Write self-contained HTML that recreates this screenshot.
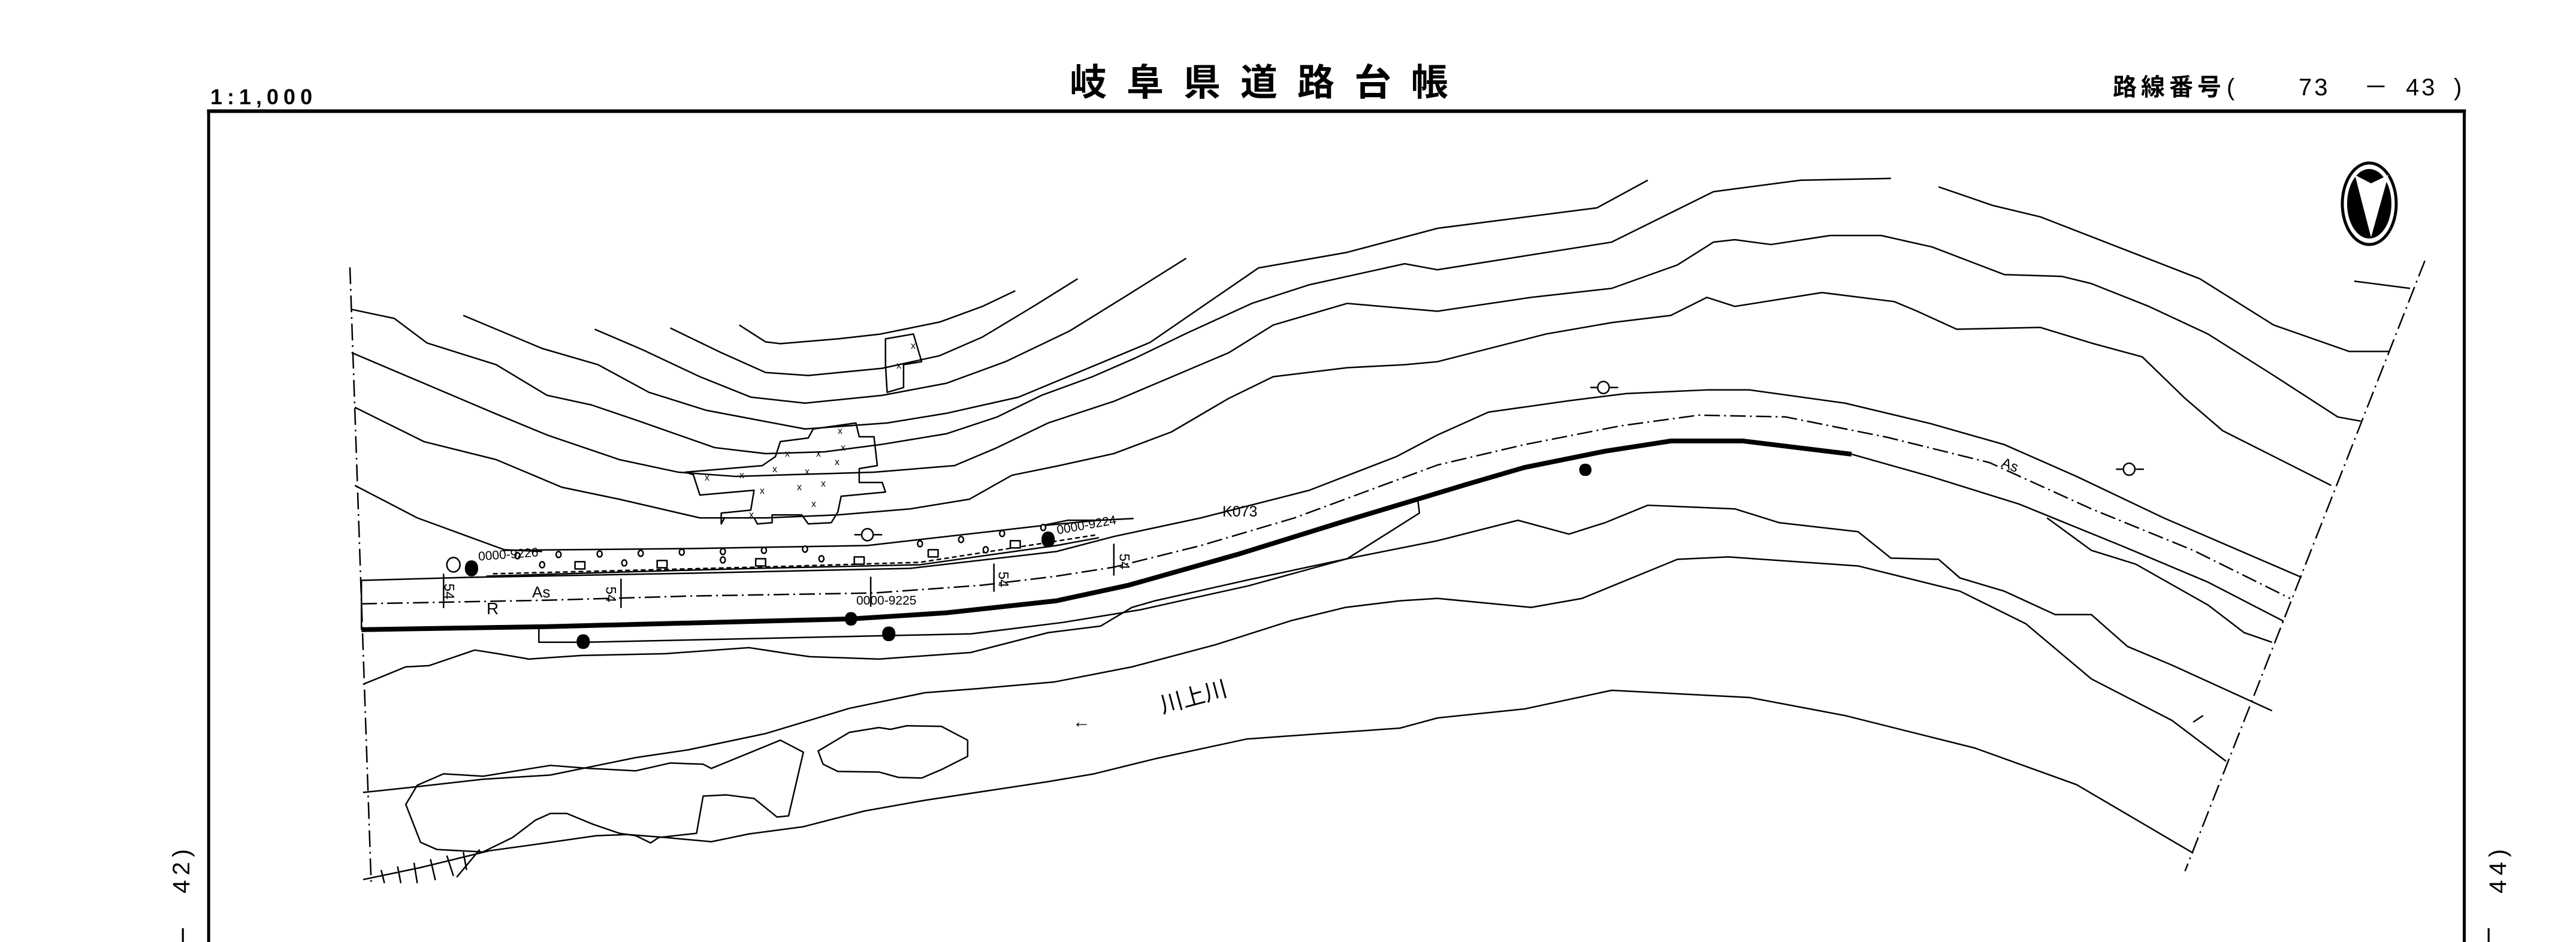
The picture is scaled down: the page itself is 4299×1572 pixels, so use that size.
<!DOCTYPE html>
<html><head><meta charset="utf-8">
<style>
html,body{margin:0;padding:0;background:#fff;}
#c{position:relative;width:4299px;height:1572px;overflow:hidden;background:#fff;font-family:"Liberation Sans","Noto Sans CJK JP",sans-serif;color:#000;}
.t{position:absolute;white-space:nowrap;line-height:1;}
svg{position:absolute;left:0;top:0;}
</style></head><body><div id="c">
<svg width="4299" height="1572" viewBox="0 0 4299 1572">
<g transform="scale(2.7417,1.0026)" fill="none" stroke="#000" stroke-width="2.5" vector-effect="non-scaling-stroke" stroke-linejoin="round">
<g vector-effect="non-scaling-stroke">
<line x1="126" y1="185" x2="1501" y2="185" stroke-width="6" vector-effect="non-scaling-stroke"/>
<line x1="127" y1="185" x2="127" y2="1572" stroke-width="5" vector-effect="non-scaling-stroke"/>
<line x1="1500" y1="185" x2="1500" y2="1572" stroke-width="5" vector-effect="non-scaling-stroke"/>
<polyline points="213,445 226,1475" stroke-dasharray="28,8,3,8" vector-effect="non-scaling-stroke"/>
<polyline points="1476,434 1330,1450" stroke-dasharray="28,8,3,8" vector-effect="non-scaling-stroke"/>
<polyline vector-effect="non-scaling-stroke" points="450,541 466,569 475,572 510,564 536,556 572,536 598,510 618,484"/>
<polyline vector-effect="non-scaling-stroke" points="408,546 439,587 466,620 492,625 537,613 572,592 598,561 629,510 656,464"/>
<polyline vector-effect="non-scaling-stroke" points="362,548 391,582 426,627 457,661 490,671 537,658 576,638 612,602 651,551 687,490 722,430"/>
<polyline vector-effect="non-scaling-stroke" points="282,525 330,580 364,607 395,653 430,683 490,714 540,704 576,688 620,661 700,570 766,446 820,420 875,380 972,346 1003,300"/>
<polyline vector-effect="non-scaling-stroke" points="214,515 240,530 260,571 302,607 333,658 360,674 388,700 435,745 466,755 502,752 536,740 576,722 607,694 634,658 665,627 691,596 722,555 762,505 797,474 855,439 875,449 981,403 1043,319 1096,300 1151,297"/>
<polyline vector-effect="non-scaling-stroke" points="1180,311 1213,342 1242,361 1339,464 1384,541 1430,585 1454,585"/>
<polyline vector-effect="non-scaling-stroke" points="1433,468 1467,480"/>
<polyline vector-effect="non-scaling-stroke" points="214,587 258,638 302,689 333,724 377,765 413,786 448,793 483,790 532,786 581,775 607,745 638,704 678,668 704,638 748,587 775,541 820,505 875,518 932,495 981,480 1021,441 1043,403 1056,399 1078,407 1114,392 1145,392 1176,411 1220,457 1255,460 1273,472 1308,510 1344,556 1384,625 1423,694 1437,701"/>
<polyline vector-effect="non-scaling-stroke" points="216,678 258,735 302,765 342,811 377,831 426,862 466,862 510,857 554,847 590,831 616,791 643,776 678,755 713,719 748,663 775,627 820,612 855,607 875,602 941,556 981,537 1017,525 1039,495 1056,510 1109,487 1153,502 1167,518 1191,548 1242,545 1273,571 1304,594 1330,663 1353,717 1419,808"/>
<polyline vector-effect="non-scaling-stroke" points="216,808 254,862 307,915 330,918"/>
<polyline vector-effect="non-scaling-stroke" points="307,916 422,913 528,908 634,875 669,866"/>
<polyline vector-effect="non-scaling-stroke" points="296,959 380,952 460,946 560,940 643,908 669,895"/>
<polyline vector-effect="non-scaling-stroke" stroke-dasharray="8,5" points="300,955 460,944 560,936 640,902 668,890"/>
<polyline vector-effect="non-scaling-stroke" points="634,875 650,866 669,866 690,863"/>
<polyline vector-effect="non-scaling-stroke" points="220,1048 220,966 285,961 422,954 554,946 643,918 678,893 731,862 797,816 850,760 875,724 906,686 955,667 990,655 1039,649 1065,649 1123,671 1175,705 1220,740 1264,793 1317,862 1401,961"/>
<polyline vector-effect="non-scaling-stroke" stroke-dasharray="26,7,3,7" points="220,1005 333,999 421,992 532,987 598,974 643,959 678,944 731,908 788,862 875,774 928,740 986,709 1034,691 1087,694 1149,728 1211,770 1273,847 1335,916 1394,996"/>
<polyline vector-effect="non-scaling-stroke" stroke-width="8" points="220,1048 333,1043 519,1030 576,1020 643,1000 687,974 753,923 819,867 893,806 928,778 977,751 1017,734 1061,734 1127,756"/>
<polyline vector-effect="non-scaling-stroke" points="1127,756 1175,793 1229,839 1291,908 1344,969 1390,1034"/>
<polyline vector-effect="non-scaling-stroke" points="328,1040 328,1069 356,1069 540,1058 591,1055 647,1036 694,1015 760,975 820,930 864,854 863,831"/>
<line vector-effect="non-scaling-stroke" x1="270" y1="955" x2="270" y2="1012"/>
<line vector-effect="non-scaling-stroke" x1="378" y1="963" x2="378" y2="1012"/>
<line vector-effect="non-scaling-stroke" x1="530" y1="960" x2="530" y2="1010"/>
<line vector-effect="non-scaling-stroke" x1="605" y1="938" x2="605" y2="985"/>
<line vector-effect="non-scaling-stroke" x1="678" y1="905" x2="678" y2="958"/>
<polyline vector-effect="non-scaling-stroke" points="221,1139 247,1110 261,1108 289,1082 303,1088 322,1097 354,1091 405,1088 456,1078 480,1088 493,1093 535,1097 591,1086 638,1053 670,1042 689,1011 703,1000 760,965 820,930 875,900 924,866 955,889 977,870 1003,841 1056,847 1083,870 1131,885 1151,929 1180,931 1193,962 1220,984 1251,1023 1273,1023 1295,1076 1322,1107 1383,1183"/>
<polyline vector-effect="non-scaling-stroke" points="1246,862 1273,916 1300,939 1344,1007 1366,1053 1383,1069"/>
<polyline vector-effect="non-scaling-stroke" points="221,1319 252,1310 294,1297 335,1290 387,1261 419,1248 466,1221 517,1179 563,1153 596,1146 642,1135 689,1110 740,1073 786,1033 819,1011 852,1000 875,996 932,1011 963,996 1021,931 1052,927 1131,942 1193,984 1233,1038 1273,1130 1322,1199 1355,1267"/>
<polyline vector-effect="non-scaling-stroke" points="221,1464 256,1444 298,1416 335,1402 363,1391 382,1389 405,1394 433,1401 456,1388 489,1376 526,1350 563,1332 638,1301 666,1288 703,1263 759,1230 805,1221 852,1212 875,1195 928,1180 981,1149 1065,1161 1123,1191 1202,1245 1264,1306 1335,1420"/>
<polyline vector-effect="non-scaling-stroke" points="1335,1202 1341,1191"/>
<polygon vector-effect="non-scaling-stroke" points="270,1288 294,1292 335,1274 359,1279 387,1283 408,1270 428,1272 433,1279 475,1232 489,1252 480,1358 473,1360 459,1329 442,1323 428,1325 424,1387 401,1394 396,1403 387,1391 377,1387 361,1372 345,1354 335,1354 326,1365 312,1394 294,1418 266,1414 256,1402 247,1339 254,1307"/>
<polygon vector-effect="non-scaling-stroke" points="498,1250 517,1219 535,1211 542,1214 552,1208 573,1209 589,1232 589,1259 573,1281 561,1295 547,1294 535,1285 510,1284 501,1272"/>
<polyline vector-effect="non-scaling-stroke" points="232,1448 234,1470"/><polyline vector-effect="non-scaling-stroke" points="242,1442 244,1470"/><polyline vector-effect="non-scaling-stroke" points="252,1436 254,1470"/><polyline vector-effect="non-scaling-stroke" points="262,1430 265,1465"/><polyline vector-effect="non-scaling-stroke" points="272,1424 276,1458"/><polyline vector-effect="non-scaling-stroke" points="282,1418 284,1448"/><polyline vector-effect="non-scaling-stroke" points="292,1414 278,1460"/>
<polygon vector-effect="non-scaling-stroke" points="417,786 464,775 472,760 475,735 492,729 495,714 521,704 523,727 532,727 534,775 523,780 523,803 537,803 539,819 512,826 510,852 506,870 492,872 488,857 470,857 470,870 461,872 459,862 441,862 439,872 439,854 457,849 459,816 426,824 422,790"/>
<polygon vector-effect="non-scaling-stroke" points="539,564 556,556 561,602 550,607 550,645 540,653 539,607"/>
<g fill="#fff">
<ellipse vector-effect="non-scaling-stroke" cx="976" cy="645" rx="3.5" ry="10"/>
<ellipse vector-effect="non-scaling-stroke" cx="1296" cy="781" rx="3.5" ry="10"/>
<ellipse vector-effect="non-scaling-stroke" cx="528" cy="890" rx="3.5" ry="10"/>
<ellipse vector-effect="non-scaling-stroke" cx="276" cy="940" rx="4" ry="12"/>
</g>
<polyline vector-effect="non-scaling-stroke" points="968,645 972,645"/><polyline vector-effect="non-scaling-stroke" points="980,645 985,645"/>
<polyline vector-effect="non-scaling-stroke" points="1288,781 1292,781"/><polyline vector-effect="non-scaling-stroke" points="1300,781 1305,781"/>
<polyline vector-effect="non-scaling-stroke" points="520,890 524,890"/><polyline vector-effect="non-scaling-stroke" points="532,890 537,890"/>
<g fill="#000">
<ellipse cx="965" cy="782" rx="2.5" ry="9"/>
<ellipse cx="355" cy="1068" rx="2.8" ry="11"/>
<ellipse cx="541" cy="1055" rx="2.8" ry="11"/>
<ellipse cx="518" cy="1030" rx="2.5" ry="10"/>
<ellipse cx="638" cy="898" rx="2.8" ry="12"/>
<ellipse cx="287" cy="946" rx="2.8" ry="12"/>
</g>
<g fill="#fff">
<ellipse vector-effect="non-scaling-stroke" cx="315" cy="925" rx="1.5" ry="5"/><ellipse vector-effect="non-scaling-stroke" cx="340" cy="923" rx="1.5" ry="5"/><ellipse vector-effect="non-scaling-stroke" cx="365" cy="922" rx="1.5" ry="5"/><ellipse vector-effect="non-scaling-stroke" cx="390" cy="921" rx="1.5" ry="5"/><ellipse vector-effect="non-scaling-stroke" cx="415" cy="919" rx="1.5" ry="5"/><ellipse vector-effect="non-scaling-stroke" cx="440" cy="918" rx="1.5" ry="5"/><ellipse vector-effect="non-scaling-stroke" cx="465" cy="916" rx="1.5" ry="5"/><ellipse vector-effect="non-scaling-stroke" cx="490" cy="914" rx="1.5" ry="5"/><ellipse vector-effect="non-scaling-stroke" cx="560" cy="905" rx="1.5" ry="5"/><ellipse vector-effect="non-scaling-stroke" cx="585" cy="898" rx="1.5" ry="5"/><ellipse vector-effect="non-scaling-stroke" cx="610" cy="888" rx="1.5" ry="5"/><ellipse vector-effect="non-scaling-stroke" cx="635" cy="878" rx="1.5" ry="5"/>
<ellipse vector-effect="non-scaling-stroke" cx="330" cy="940" rx="1.5" ry="5"/><ellipse vector-effect="non-scaling-stroke" cx="380" cy="937" rx="1.5" ry="5"/><ellipse vector-effect="non-scaling-stroke" cx="440" cy="932" rx="1.5" ry="5"/><ellipse vector-effect="non-scaling-stroke" cx="500" cy="930" rx="1.5" ry="5"/><ellipse vector-effect="non-scaling-stroke" cx="600" cy="915" rx="1.5" ry="5"/>
</g>
<g fill="#fff">
<rect vector-effect="non-scaling-stroke" x="350" y="935" width="6" height="12"/><rect vector-effect="non-scaling-stroke" x="400" y="933" width="6" height="12"/><rect vector-effect="non-scaling-stroke" x="460" y="930" width="6" height="12"/><rect vector-effect="non-scaling-stroke" x="520" y="927" width="6" height="12"/><rect vector-effect="non-scaling-stroke" x="565" y="915" width="6" height="12"/><rect vector-effect="non-scaling-stroke" x="615" y="900" width="6" height="12"/>
</g>
</g>
</g>
<ellipse cx="3954" cy="340" rx="45" ry="68" fill="#fff" stroke="#000" stroke-width="5"/>
<ellipse cx="3954" cy="340" rx="37" ry="58" fill="#000"/>
<polygon points="3930,292 3957,306 3986,292 3957,396" fill="#fff"/>
</svg>

<div class="t" style="left:351px;top:144px;font-size:36px;letter-spacing:8px;font-weight:bold;">1:1,000</div>
<div class="t" style="left:1785px;top:108px;font-size:62px;letter-spacing:33px;font-weight:bold;">岐阜県道路台帳</div>
<div class="t" style="left:3526px;top:126px;font-size:40px;letter-spacing:7px;font-weight:bold;">路線番号</div>
<div class="t" style="left:3716px;top:126px;font-size:40px;">(</div>
<div class="t" style="left:3836px;top:126px;font-size:40px;letter-spacing:4px;">73</div>
<div class="t" style="left:3945px;top:126px;font-size:40px;">－</div>
<div class="t" style="left:4015px;top:126px;font-size:40px;letter-spacing:4px;">43</div>
<div class="t" style="left:4095px;top:126px;font-size:40px;">)</div>
<div class="t" style="left:262px;top:1430px;font-size:40px;transform:rotate(-90deg);letter-spacing:8px;">42)</div>
<div class="t" style="left:300px;top:1545px;font-size:40px;">|</div>
<div class="t" style="left:4128px;top:1430px;font-size:40px;transform:rotate(-90deg);letter-spacing:8px;">44)</div>
<div class="t" style="left:4148px;top:1545px;font-size:40px;">|</div>

<div class="t" style="left:798px;top:915px;font-size:21px;transform:rotate(-4deg);">0000-9226</div>
<div class="t" style="left:1763px;top:866px;font-size:21px;transform:rotate(-10deg);">0000-9224</div>
<div class="t" style="left:1429px;top:992px;font-size:21px;">0000-9225</div>
<div class="t" style="left:2040px;top:842px;font-size:25px;">K073</div>
<div class="t" style="left:888px;top:975px;font-size:26px;">As</div>
<div class="t" style="left:3340px;top:765px;font-size:24px;transform:rotate(20deg);">As</div>
<div class="t" style="left:812px;top:1002px;font-size:28px;">R</div>
<div class="t" style="left:735px;top:975px;font-size:24px;transform:rotate(90deg);">54</div>
<div class="t" style="left:1005px;top:980px;font-size:24px;transform:rotate(90deg);">54</div>
<div class="t" style="left:1660px;top:955px;font-size:24px;transform:rotate(90deg);">54</div>
<div class="t" style="left:1862px;top:925px;font-size:24px;transform:rotate(90deg);">54</div>
<div class="t" style="left:1790px;top:1190px;font-size:30px;">←</div>
<div class="t" style="left:1935px;top:1145px;font-size:38px;transform:rotate(-15deg);">川上川</div>

<div class="t" style="left:1176px;top:790px;font-size:16px;">x</div>
<div class="t" style="left:1234px;top:786px;font-size:16px;">x</div>
<div class="t" style="left:1289px;top:776px;font-size:16px;">x</div>
<div class="t" style="left:1343px;top:780px;font-size:16px;">x</div>
<div class="t" style="left:1393px;top:764px;font-size:16px;">x</div>
<div class="t" style="left:1310px;top:750px;font-size:16px;">x</div>
<div class="t" style="left:1362px;top:750px;font-size:16px;">x</div>
<div class="t" style="left:1403px;top:740px;font-size:16px;">x</div>
<div class="t" style="left:1398px;top:712px;font-size:16px;">x</div>
<div class="t" style="left:1268px;top:812px;font-size:16px;">x</div>
<div class="t" style="left:1330px;top:806px;font-size:16px;">x</div>
<div class="t" style="left:1370px;top:800px;font-size:16px;">x</div>
<div class="t" style="left:1354px;top:834px;font-size:16px;">x</div>
<div class="t" style="left:1250px;top:852px;font-size:16px;">x</div>
<div class="t" style="left:1520px;top:570px;font-size:16px;">x</div>
<div class="t" style="left:1496px;top:603px;font-size:16px;">x</div>
</div></body></html>
